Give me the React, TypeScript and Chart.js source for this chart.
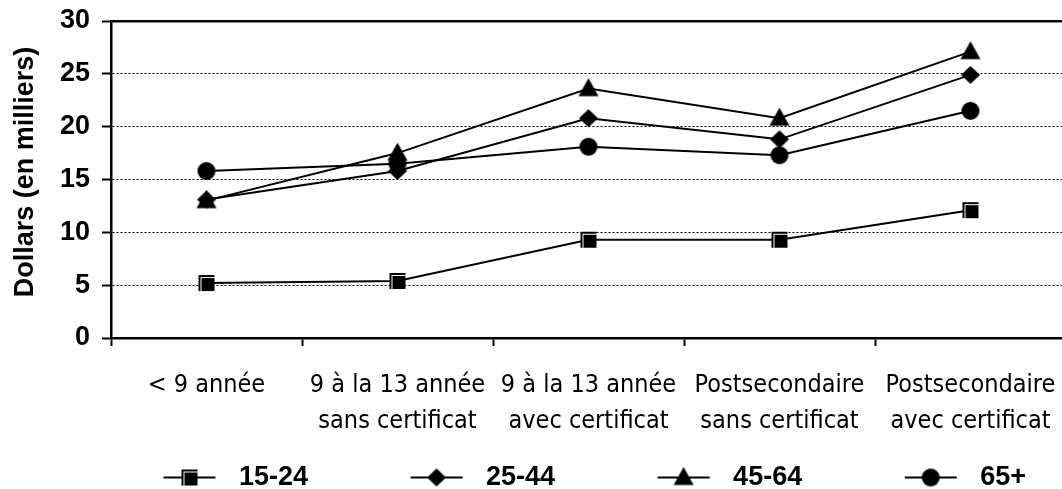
import React, { useEffect, useRef } from 'react';
import { Chart, registerables } from 'chart.js';

Chart.register(...registerables);

// ---- data ----
const categories: (string | string[])[] = [
  '< 9 année',
  ['9 à la 13 année', 'sans certificat'],
  ['9 à la 13 année', 'avec certificat'],
  ['Postsecondaire', 'sans certificat'],
  ['Postsecondaire', 'avec certificat'],
];
const seriesNames = ['15-24', '25-44', '45-64', '65+'];
const values15to24 = [5.2, 5.4, 9.3, 9.3, 12.1];
const values25to44 = [13.1, 15.8, 20.8, 18.8, 24.9];
const values45to64 = [13.0, 17.5, 23.6, 20.8, 27.1];
const values65plus = [15.8, 16.5, 18.1, 17.3, 21.5];
const yTickValues = [0, 5, 10, 15, 20, 25, 30];
const yTitle = 'Dollars (en milliers)';

type Kind = 'square' | 'diamond' | 'triangle' | 'circle';
const markerKinds: Kind[] = ['square', 'diamond', 'triangle', 'circle'];

function drawMarker(ctx: CanvasRenderingContext2D, kind: Kind, cx: number, cy: number) {
  ctx.fillStyle = '#000';
  if (kind === 'square') {
    ctx.fillRect(cx - 8, cy - 8, 16, 16);
    ctx.fillStyle = '#fff';
    ctx.fillRect(cx - 6, cy - 6, 14, 14);
    ctx.fillStyle = '#000';
    ctx.fillRect(cx - 5, cy - 5, 13, 13);
  } else if (kind === 'diamond') {
    ctx.beginPath();
    ctx.moveTo(cx, cy - 9);
    ctx.lineTo(cx + 9.5, cy);
    ctx.lineTo(cx, cy + 9);
    ctx.lineTo(cx - 9.5, cy);
    ctx.closePath();
    ctx.fill();
  } else if (kind === 'triangle') {
    ctx.beginPath();
    ctx.moveTo(cx, cy - 10.5);
    ctx.lineTo(cx + 10, cy + 7.5);
    ctx.lineTo(cx - 10, cy + 7.5);
    ctx.closePath();
    ctx.fill();
  } else {
    ctx.beginPath();
    ctx.arc(cx, cy, 9, 0, Math.PI * 2);
    ctx.fill();
  }
}

function makeMarker(kind: Kind): HTMLCanvasElement {
  const c = document.createElement('canvas');
  c.width = 24;
  c.height = 24;
  const ctx = c.getContext('2d')!;
  drawMarker(ctx, kind, 12, 12);
  return c;
}

function makeLegendIcon(kind: Kind): HTMLCanvasElement {
  const c = document.createElement('canvas');
  c.width = 54;
  c.height = 24;
  const ctx = c.getContext('2d')!;
  ctx.strokeStyle = '#000';
  ctx.lineWidth = 2;
  ctx.beginPath();
  ctx.moveTo(1, 12);
  ctx.lineTo(53, 12);
  ctx.stroke();
  drawMarker(ctx, kind, 27, 12);
  return c;
}

const BOLD = "'Liberation Sans', Arial, sans-serif";
const NARROW = "'Liberation Sans Narrow', 'Arial Narrow', 'DejaVu Sans Condensed', sans-serif";

export default function App() {
  const ref = useRef<HTMLCanvasElement | null>(null);

  useEffect(() => {
    if (!ref.current) return;
    const seriesValues = [values15to24, values25to44, values45to64, values65plus];
    const markers = markerKinds.map(makeMarker);
    const icons = markerKinds.map(makeLegendIcon);

    const chart = new Chart(ref.current, {
      type: 'line',
      data: {
        labels: categories as any,
        datasets: seriesNames.map((name, i) => ({
          label: name,
          data: seriesValues[i],
          borderColor: '#000',
          backgroundColor: '#000',
          borderWidth: 2,
          tension: 0,
          fill: false,
          pointStyle: markers[i] as any,
          pointRadius: 10,
          pointHoverRadius: 10,
          xAxisID: 'x',
          yAxisID: 'y',
        })),
      },
      options: {
        responsive: false,
        animation: false,
        devicePixelRatio: 1,
        layout: { autoPadding: false, padding: { top: 21, left: 0, right: 0, bottom: 0 } },
        plugins: {
          tooltip: { enabled: false },
          title: { display: false },
          legend: {
            display: true,
            position: 'bottom',
            align: 'end',
            labels: {
              usePointStyle: true,
              pointStyleWidth: 72,
              padding: 10,
              color: '#000',
              font: { family: BOLD, size: 27, weight: 'bold' },
              generateLabels: () =>
                seriesNames.map((name, i) => ({
                  text: name + ' '.repeat(i < seriesNames.length - 1 ? 11 : 4),
                  pointStyle: icons[i] as any,
                  fillStyle: '#000',
                  strokeStyle: '#000',
                  lineWidth: 0,
                  hidden: false,
                  datasetIndex: i,
                  fontColor: '#000',
                })),
            },
          },
        },
        scales: {
          x: {
            type: 'category',
            position: 'bottom',
            offset: true,
            grid: {
              offset: true,
              drawOnChartArea: false,
              drawTicks: true,
              tickLength: 8,
              tickWidth: 2,
              tickColor: '#000',
              color: '#000',
            },
            border: { display: true, color: '#000', width: 2.5 },
            ticks: {
              color: '#000',
              autoSkip: false,
              maxRotation: 0,
              minRotation: 0,
              padding: 21,
              font: { family: NARROW, size: 25, lineHeight: 36 / 25 },
            },
            afterFit: (s: any) => {
              s.height = 116;
              s.paddingLeft = 0;
              s.paddingRight = 0;
            },
          },
          x2: {
            type: 'category',
            position: 'top',
            labels: categories as any,
            offset: true,
            grid: { display: false },
            ticks: { display: false },
            border: { display: true, color: '#000', width: 2.5 },
            afterFit: (s: any) => {
              s.height = 0;
              s.paddingLeft = 0;
              s.paddingRight = 0;
              s.paddingTop = 0;
              s.paddingBottom = 0;
            },
          },
          y: {
            type: 'linear',
            position: 'left',
            min: 0,
            max: 30,
            afterBuildTicks: (s: any) => {
              s.ticks = yTickValues.map((v) => ({ value: v }));
            },
            ticks: {
              color: '#000',
              padding: 12,
              font: { family: BOLD, size: 27, weight: 'bold' },
            },
            grid: {
              color: '#000',
              lineWidth: 1,
              drawTicks: true,
              tickLength: 9,
              tickWidth: 2,
              tickColor: '#000',
              tickBorderDash: [],
            },
            border: { display: true, color: '#000', width: 2.5, dash: [2, 2] },
            title: {
              display: true,
              text: '  ' + yTitle,
              color: '#000',
              font: { family: BOLD, size: 27, weight: 'bold' },
              padding: { top: 9, bottom: 0 },
            },
            afterFit: (s: any) => {
              s.width = 111;
              s.paddingTop = 0;
              s.paddingBottom = 0;
            },
          },
        },
      } as any,
    });
    return () => chart.destroy();
  }, []);

  return (
    <div
      style={{
        position: 'absolute',
        left: 0,
        top: 0,
        width: 1062,
        height: 489,
        overflow: 'hidden',
        background: '#fff',
      }}
    >
      <canvas ref={ref} width={1066} height={501} style={{ width: 1066, height: 501, display: 'block' }} />
    </div>
  );
}
